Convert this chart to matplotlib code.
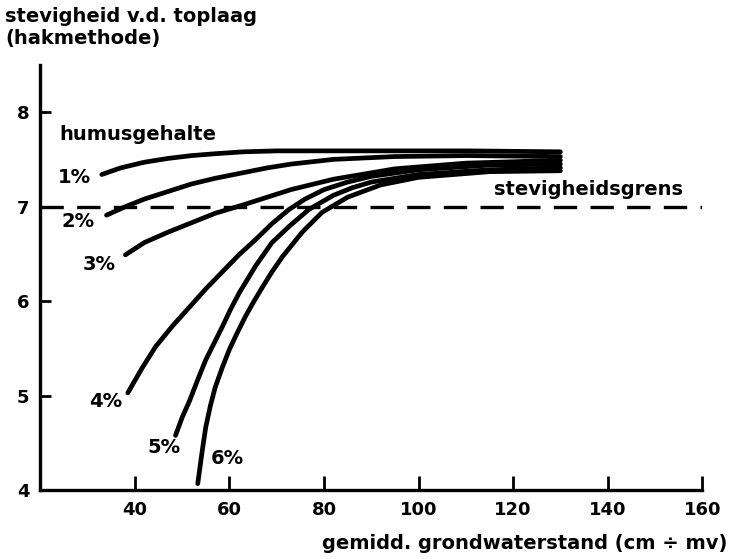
import matplotlib
matplotlib.use("Agg")
import matplotlib.pyplot as plt

# Data
x1 = [33, 37, 42, 47, 52, 57, 63, 70, 80, 95, 110, 130]
y1 = [7.34, 7.41, 7.47, 7.51, 7.54, 7.56, 7.58, 7.59, 7.59, 7.59, 7.59, 7.58]
x2 = [34, 38, 42, 47, 52, 57, 63, 68, 73, 82, 95, 110, 130]
y2 = [6.91, 7.00, 7.08, 7.16, 7.24, 7.30, 7.36, 7.41, 7.45, 7.50, 7.53, 7.54, 7.53]
x3 = [38, 42, 47, 52, 57, 63, 68, 73, 82, 95, 110, 130]
y3 = [6.49, 6.62, 6.73, 6.83, 6.93, 7.02, 7.10, 7.18, 7.29, 7.40, 7.46, 7.49]
x4 = [38.5, 41.5, 44.4, 48, 51.6, 55, 58.5, 62, 65.5, 69, 72.6, 76, 80, 85, 90, 100, 115, 130]
y4 = [5.03, 5.29, 5.52, 5.74, 5.94, 6.13, 6.31, 6.49, 6.65, 6.82, 6.97, 7.08, 7.18, 7.26, 7.32, 7.39, 7.44, 7.45]
x5 = [48.6, 50, 51.6, 53.3, 55, 56.8, 58.5, 60.3, 62.1, 63.8, 65.5, 69, 72.6, 76.8, 82, 86, 90, 100, 115, 130]
y5 = [4.58, 4.77, 4.95, 5.17, 5.38, 5.56, 5.73, 5.92, 6.09, 6.23, 6.37, 6.62, 6.79, 6.97, 7.12, 7.20, 7.26, 7.34, 7.39, 7.41]
x6 = [53.3, 54.2, 55, 56, 57, 58.5, 60, 61.7, 63.4, 65.2, 67, 69, 71.2, 75.4, 79.6, 85, 92, 100, 115, 130]
y6 = [4.07, 4.40, 4.67, 4.90, 5.09, 5.30, 5.49, 5.67, 5.84, 6.00, 6.15, 6.31, 6.47, 6.73, 6.94, 7.10, 7.23, 7.31, 7.37, 7.38]
curves_x = [x1, x2, x3, x4, x5, x6]
curves_y = [y1, y2, y3, y4, y5, y6]
labels = ["1%", "2%", "3%", "4%", "5%", "6%"]
label_x = [27.2, 28.0, 32.4, 33.9, 46.1, 59.6]
label_y = [7.31, 6.84, 6.39, 4.94, 4.45, 4.34]
threshold = 7.0
xticks = [40, 60, 80, 100, 120, 140, 160]
yticks = [4, 5, 6, 7, 8]

plt.rcParams['font.family'] = ['DejaVu Sans']
fig = plt.figure(figsize=(7.33, 5.59), dpi=100)
ax = fig.add_axes([0.055, 0.123, 0.903, 0.761])

for xs, ys in zip(curves_x, curves_y):
    ax.plot(xs, ys, color='black', lw=3.4, solid_capstyle='round', solid_joinstyle='round')

ax.plot([20, 160], [threshold, threshold], color='black', lw=2.4, dashes=(7, 4))

for lab, lx, ly in zip(labels, label_x, label_y):
    ax.text(lx, ly, lab, fontsize=14, fontweight='bold', ha='center', va='center')

ax.text(24.0, 7.76, "humusgehalte", fontsize=14, fontweight='bold', ha='left', va='center')
ax.text(136, 7.18, "stevigheidsgrens", fontsize=14, fontweight='bold', ha='center', va='center')

ax.set_xlim(20, 160)
ax.set_ylim(4, 8.5)
ax.set_xticks(xticks)
ax.set_yticks(yticks)
ax.set_xticklabels([str(t) for t in xticks], fontsize=13, fontweight='bold')
ax.set_yticklabels([str(t) for t in yticks], fontsize=13, fontweight='bold')
ax.tick_params(axis='x', direction='in', length=10, width=2, pad=8)
ax.tick_params(axis='y', direction='in', length=8, width=2, pad=8)
for s in ['top', 'right']:
    ax.spines[s].set_visible(False)
for s in ['left', 'bottom']:
    ax.spines[s].set_linewidth(2.4)

fig.text(0.007, 0.988, "stevigheid v.d. toplaag\n(hakmethode)", fontsize=14,
         fontweight='bold', ha='left', va='top', linespacing=1.25)
fig.text(0.993, 0.028, "gemidd. grondwaterstand (cm ÷ mv)", fontsize=14,
         fontweight='bold', ha='right', va='center')

fig.savefig("out.png", dpi=100)
